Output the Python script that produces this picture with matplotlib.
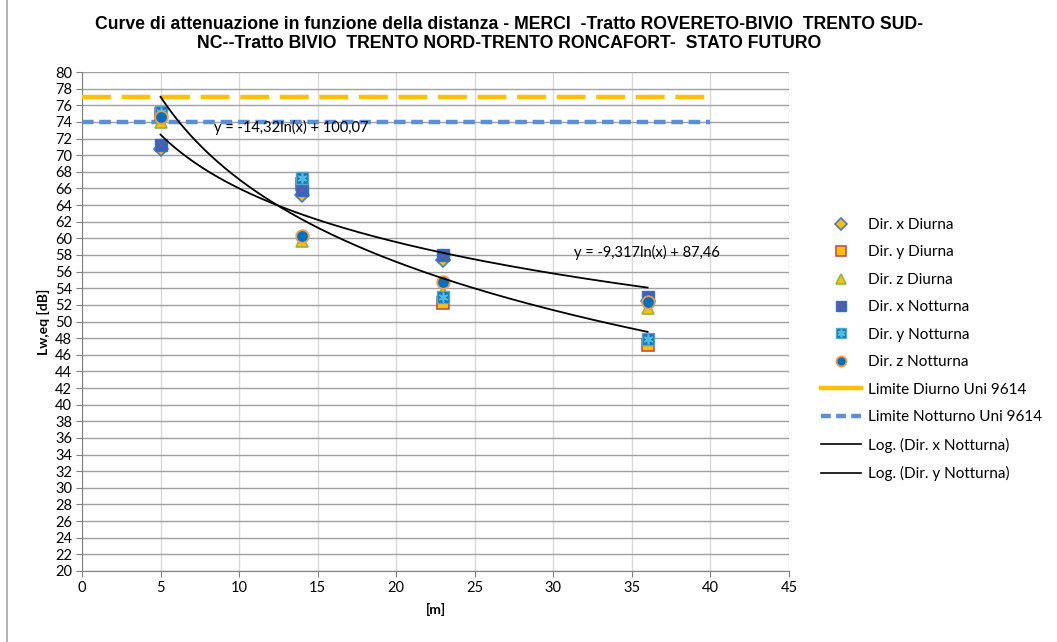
import numpy as np
import matplotlib
matplotlib.use("Agg")
import matplotlib.pyplot as plt
from matplotlib.lines import Line2D
from matplotlib import font_manager as fm

# --- data -------------------------------------------------------------
distances = [5, 14, 23, 36]

dir_x_diurna = [70.8, 65.2, 57.4, 52.5]
dir_y_diurna = [75.0, 66.5, 52.2, 47.2]
dir_z_diurna = [74.0, 59.7, 53.5, 51.6]
dir_x_notturna = [71.2, 65.8, 58.0, 52.9]
dir_y_notturna = [75.2, 67.2, 53.0, 47.9]
dir_z_notturna = [74.6, 60.3, 54.7, 52.3]

limit_x = [0, 40]
limite_diurno = 77
limite_notturno = 74

# logarithmic trend lines: y = a*ln(x) + b
trend_x_nott = (-9.317, 87.46)
trend_y_nott = (-14.32, 100.07)

x_ticks = list(range(0, 46, 5))
y_ticks = list(range(20, 81, 2))

title = ("Curve di attenuazione in funzione della distanza - MERCI  -Tratto ROVERETO-BIVIO  TRENTO SUD-\n"
         "NC--Tratto BIVIO  TRENTO NORD-TRENTO RONCAFORT-  STATO FUTURO")


def pick_font(cands):
    names = {f.name for f in fm.fontManager.ttflist}
    for c in cands:
        if c in names:
            return c
    return "DejaVu Sans"


body_font = pick_font(["Lato", "Liberation Sans", "DejaVu Sans"])
title_font = pick_font(["Liberation Sans", "DejaVu Sans"])
plt.rcParams["font.family"] = body_font

fig = plt.figure(figsize=(10.57, 6.42), dpi=100)
ax = fig.add_axes([82 / 1057, 1 - 571 / 642, (789 - 82) / 1057, (571 - 72) / 642])

# chart border on the left edge
fig.add_artist(Line2D([7 / 1057, 7 / 1057], [0, 1], color="#A6A6A6", lw=1.2,
                      transform=fig.transFigure))

# limit lines
ax.plot(limit_x, [limite_diurno] * 2, color="#FFC000", lw=3.2, dashes=(6.5, 2.4),
        zorder=3)
ax.plot(limit_x, [limite_notturno] * 2, color="#5B8FD8", lw=3.2, dashes=(2.6, 1.3),
        zorder=3)

# trend lines
xx = np.linspace(min(distances), max(distances), 200)
ax.plot(xx, trend_x_nott[0] * np.log(xx) + trend_x_nott[1], color="black", lw=1.3, zorder=6)
ax.plot(xx, trend_y_nott[0] * np.log(xx) + trend_y_nott[1], color="black", lw=1.3, zorder=6)

ms = 9
blue = "#1F6FC4"
h_xd = ax.plot(distances, dir_x_diurna, ls="none", marker="D", ms=7.5, mfc="#FFC000",
               mec="#4A7CC8", mew=1.2, zorder=4)[0]
h_yd = ax.plot(distances, dir_y_diurna, ls="none", marker="s", ms=ms, mfc="#FFC000",
               mec="#C0504D", mew=1.2, zorder=4)[0]
h_zd = ax.plot(distances, dir_z_diurna, ls="none", marker="^", ms=ms, mfc="#FFC000",
               mec="#8DB650", mew=1.2, zorder=4)[0]
h_xn_sq = ax.plot(distances, dir_x_notturna, ls="none", marker="s", ms=ms, mfc=blue,
                  mec="#3A6FC0", mew=1.0, zorder=5)[0]
h_xn_x = ax.plot(distances, dir_x_notturna, ls="none", marker="x", ms=ms - 2,
                 mec="#7A4EA0", mew=1.2, zorder=5)[0]
h_yn_sq = ax.plot(distances, dir_y_notturna, ls="none", marker="s", ms=ms, mfc=blue,
                  mec="#4BACC6", mew=1.0, zorder=5)[0]
h_yn_x = ax.plot(distances, dir_y_notturna, ls="none", marker=(6, 2, 0), ms=ms - 2,
                 mec="#4BC0DD", mew=1.2, zorder=5)[0]
h_zn = ax.plot(distances, dir_z_notturna, ls="none", marker="o", ms=ms, mfc="#0070C0",
               mec="#F39A45", mew=1.3, zorder=5)[0]

# trend equations
ax.text(8.4, 72.8, "y = -14,32ln(x) + 100,07", fontsize=10.5, family=body_font, zorder=7)
ax.text(31.3, 57.7, "y = -9,317ln(x) + 87,46", fontsize=10.5, family=body_font, zorder=7)

ax.set_xlim(0, 45)
ax.set_ylim(20, 80)
ax.set_xticks(x_ticks)
ax.set_yticks(y_ticks)
ax.tick_params(axis="both", labelsize=10.5, direction="out", length=4, color="#808080",
               pad=3)
ax.grid(axis="y", color="#A0A0A0", lw=1.0)
ax.grid(axis="x", color="#D9D9D9", lw=1.0)
ax.set_axisbelow(True)
for side in ["top", "right"]:
    ax.spines[side].set_visible(False)
for side in ["left", "bottom"]:
    ax.spines[side].set_color("#808080")

ax.set_xlabel("[m]", fontsize=10, fontweight="bold", labelpad=6)
ax.set_ylabel("Lw,eq [dB]", fontsize=10, fontweight="bold", labelpad=4)

fig.text(509 / 1057, 1 - 34 / 642, title, ha="center", va="center", fontsize=12.7,
         fontweight="bold", family=title_font, linespacing=1.15)

legend_handles = [
    h_xd, h_yd, h_zd, (h_xn_sq, h_xn_x), (h_yn_sq, h_yn_x), h_zn,
    Line2D([], [], color="#FFC000", lw=3.2),
    Line2D([], [], color="#5B8FD8", lw=3.2, dashes=(2.2, 1.2)),
    Line2D([], [], color="black", lw=1.2),
    Line2D([], [], color="black", lw=1.2),
]
legend_labels = ["Dir. x Diurna", "Dir. y Diurna", "Dir. z Diurna", "Dir. x Notturna",
                 "Dir. y Notturna", "Dir. z Notturna", "Limite Diurno Uni 9614",
                 "Limite Notturno Uni 9614", "Log. (Dir. x Notturna)",
                 "Log. (Dir. y Notturna)"]
fig.legend(legend_handles, legend_labels, loc="upper left",
           bbox_to_anchor=(821 / 1057, 1 - 218 / 642), frameon=False, fontsize=11,
           handlelength=2.6, handletextpad=0.45, labelspacing=0.88, borderaxespad=0,
           borderpad=0, markerscale=0.8)

fig.savefig("out.png", dpi=100)
